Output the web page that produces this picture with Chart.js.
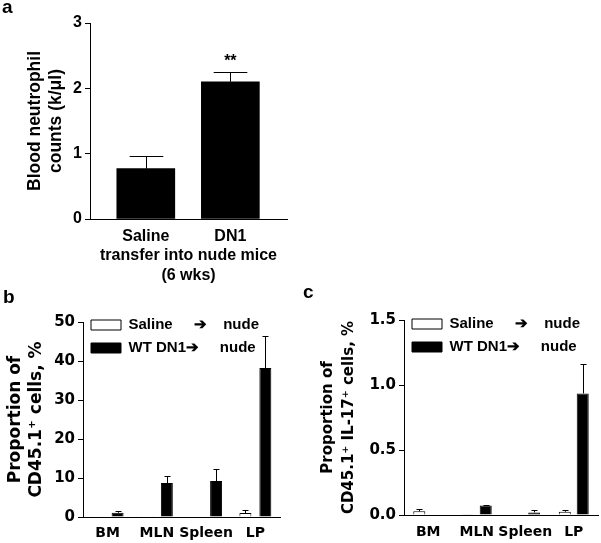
<!DOCTYPE html>
<html>
<head>
<meta charset="utf-8">
<script src="https://cdn.jsdelivr.net/npm/chart.js@4"></script>
<style>
  body { margin: 0; background: #fff; }
  #wrap { position: relative; width: 601px; height: 543px; overflow: hidden; }
  canvas { position: absolute; }
  .tag { position: absolute; font: bold 19px/19px "Liberation Sans", Arial, sans-serif; }
</style>
</head>
<body>
<div id="wrap">
  <canvas id="chartA" width="300" height="290" style="left:0;top:0"></canvas>
  <canvas id="chartB" width="300" height="263" style="left:0;top:280px"></canvas>
  <canvas id="chartC" width="301" height="263" style="left:300px;top:280px"></canvas>
  <div class="tag" style="left:2px;top:-3px">a</div>
  <div class="tag" style="left:3px;top:287px">b</div>
  <div class="tag" style="left:303px;top:282px">c</div>
</div>
<script>
// panel a: blood neutrophils
const aGroups = ["Saline", "DN1"];
const aMeans = [0.77, 2.10];
const aErrors = [0.20, 0.15];
const aXTitle = ["transfer into nude mice", "(6 wks)"];
const aYTitle = ["Blood neutrophil", "counts (k/\u03bcl)"];

// panels b and c: organs
const organs = ["BM", "MLN", "Spleen", "LP"];
const seriesNames = ["Saline", "WT DN1"];
const legendText = ["Saline     \u2794    nude", "WT DN1\u2794     nude"];

const bSaline = [0.05, 0.2, 0.15, 1.0];
const bSalineErr = [0, 0, 0, 0.8];
const bDN1 = [1.1, 8.7, 9.2, 38.2];
const bDN1Err = [0.5, 1.8, 3.0, 8.2];
const bYTitle = ["Proportion of", "CD45.1\u207a cells, %"];

const cSaline = [0.028, 0.002, 0.003, 0.025];
const cSalineErr = [0.018, 0, 0, 0.016];
const cDN1 = [0.003, 0.074, 0.02, 0.935];
const cDN1Err = [0, 0.004, 0.018, 0.23];
const cYTitle = ["Proportion of", "CD45.1\u207a IL-17\u207a cells, %"];

const FONT_A = '"Liberation Sans", Arial, sans-serif';
const FONT_BC = '"DejaVu Sans", Verdana, sans-serif';

Chart.defaults.color = "#000";
Chart.defaults.font.family = FONT_A;
Chart.defaults.font.weight = "bold";

// upper error whiskers with a cap
const errorBars = {
  id: "errorBars",
  afterDatasetsDraw(chart, args, opts) {
    const { ctx } = chart;
    const yScale = chart.scales.y;
    ctx.save();
    ctx.strokeStyle = "#000";
    ctx.lineWidth = 1;
    chart.data.datasets.forEach((ds, i) => {
      if (!ds.errors) return;
      const meta = chart.getDatasetMeta(i);
      meta.data.forEach((bar, j) => {
        const err = ds.errors[j];
        if (!err) return;
        const val = meta.controller.getParsed(j).y;
        const top = Math.round(yScale.getPixelForValue(val + err)) + 0.5;
        const x = Math.round(bar.x) + 0.5;
        const half = (bar.width * opts.cap) / 2;
        ctx.beginPath();
        ctx.moveTo(x, bar.y);
        ctx.lineTo(x, top);
        ctx.moveTo(x - half, top);
        ctx.lineTo(x + half, top);
        ctx.stroke();
      });
    });
    ctx.restore();
  }
};

// significance stars over panel a
const stars = {
  id: "stars",
  afterDatasetsDraw(chart, args, opts) {
    const { ctx } = chart;
    const bar = chart.getDatasetMeta(0).data[opts.index];
    const top = chart.scales.y.getPixelForValue(aMeans[opts.index] + aErrors[opts.index]);
    ctx.save();
    ctx.font = "bold 16px " + FONT_A;
    ctx.fillStyle = "#000";
    ctx.textAlign = "center";
    ctx.textBaseline = "alphabetic";
    ctx.fillText(opts.text, bar.x, top - 6);
    ctx.restore();
  }
};

// legend sits inside the plot, a bit above the top of the axis
const placeLegend = {
  id: "placeLegend",
  afterLayout(chart, args, opts) {
    const lg = chart.legend;
    const area = chart.chartArea;
    if (!lg) return;
    lg.left = area.left;
    lg.right = area.right;
    lg.top = area.top - opts.dy;
    lg.bottom = area.bottom;
  }
};

new Chart(document.getElementById("chartA"), {
  type: "bar",
  data: {
    datasets: [{
      data: aGroups.map((g, i) => ({ x: i, y: aMeans[i] })),
      errors: aErrors,
      backgroundColor: "#000",
      borderWidth: 0,
      barThickness: 58
    }]
  },
  plugins: [errorBars, stars],
  options: {
    responsive: false,
    animation: false,
    events: [],
    layout: { padding: { left: 0, top: 23, right: 13, bottom: 0 } },
    plugins: {
      legend: { display: false },
      tooltip: { enabled: false },
      errorBars: { cap: 0.58 },
      stars: { index: 1, text: "**" }
    },
    scales: {
      x: {
        type: "linear",
        offset: false,
        min: -0.66,
        max: 1.67,
        afterBuildTicks: (s) => { s.ticks = aGroups.map((g, i) => ({ value: i })); },
        afterFit: (s) => { s.height = 71; },
        grid: { display: false, drawTicks: false, offset: false },
        border: { color: "#000", width: 1 },
        ticks: { callback: (v) => aGroups[v], padding: 8, maxRotation: 0, autoSkip: false, font: { size: 16 } },
        title: { display: true, text: aXTitle, font: { size: 16, lineHeight: 1.25 }, padding: { top: 0, bottom: 4 } }
      },
      y: {
        min: 0,
        max: 3,
        afterFit: (s) => { s.width = 90; },
        grid: { drawOnChartArea: false, tickLength: 5, color: "#000" },
        border: { color: "#000", width: 1 },
        ticks: { stepSize: 1, padding: 3, font: { size: 16 } },
        title: { display: true, text: aYTitle, font: { size: 17.5, lineHeight: 1.2 }, padding: { top: 25, bottom: 0 } }
      }
    }
  }
});

function organChart(id, saline, salineErr, dn1, dn1Err, o) {
  return new Chart(document.getElementById(id), {
    type: "bar",
    data: {
      labels: organs,
      datasets: [
        {
          label: seriesNames[0],
          data: saline,
          errors: salineErr,
          backgroundColor: "#fff",
          borderColor: "#000",
          borderWidth: 1
        },
        {
          label: seriesNames[1],
          data: dn1,
          errors: dn1Err,
          backgroundColor: "#000",
          borderColor: "#000",
          borderWidth: 1
        }
      ]
    },
    plugins: [errorBars, placeLegend],
    options: {
      responsive: false,
      animation: false,
      events: [],
      categoryPercentage: o.cp,
      barPercentage: o.bp,
      layout: { padding: { left: 0, top: o.top, right: o.right, bottom: 0 } },
      plugins: {
        tooltip: { enabled: false },
        errorBars: { cap: 0.5 },
        placeLegend: { dy: o.dy },
        legend: {
          position: "chartArea",
          align: "start",
          labels: {
            boxWidth: 30,
            boxHeight: 10,
            padding: 8,
            textAlign: "left",
            font: { family: FONT_A, size: 15, weight: "bold" },
            generateLabels: (chart) =>
              Chart.defaults.plugins.legend.labels.generateLabels(chart)
                .map((it, i) => ({ ...it, text: legendText[i] }))
          }
        }
      },
      scales: {
        x: {
          afterFit: (s) => { s.height = o.xh; },
          grid: { display: false, drawTicks: false },
          border: { color: "#000", width: 1 },
          ticks: { padding: o.xpad, maxRotation: 0, minRotation: 0, autoSkip: false, font: { family: FONT_BC, size: 14 } }
        },
        y: {
          min: 0,
          max: o.max,
          afterFit: (s) => { s.width = o.yw; },
          grid: { drawOnChartArea: false, tickLength: 5, color: "#000" },
          border: { color: "#000", width: 1 },
          ticks: { stepSize: o.step, padding: 3, font: { family: FONT_BC, size: 15 }, callback: o.fmt },
          title: {
            display: true,
            text: o.title,
            font: { family: FONT_BC, size: o.tsize, lineHeight: 21 / o.tsize },
            padding: { top: o.tpad, bottom: 0 }
          }
        }
      }
    }
  });
}

organChart("chartB", bSaline, bSalineErr, bDN1, bDN1Err, {
  cp: 0.81, bp: 0.6, top: 42, right: 20, dy: 12.5, xh: 26, xpad: 8, yw: 83,
  max: 50, step: 10, fmt: (v) => v, title: bYTitle, tsize: 17, tpad: 5.5
});

organChart("chartC", cSaline, cSalineErr, cDN1, cDN1Err, {
  cp: 0.74, bp: 0.67, top: 40, right: 3, dy: 11.5, xh: 28, xpad: 8.5, yw: 104,
  max: 1.5, step: 0.5, fmt: (v) => v.toFixed(1), title: cYTitle, tsize: 15, tpad: 17.5
});
</script>
</body>
</html>
